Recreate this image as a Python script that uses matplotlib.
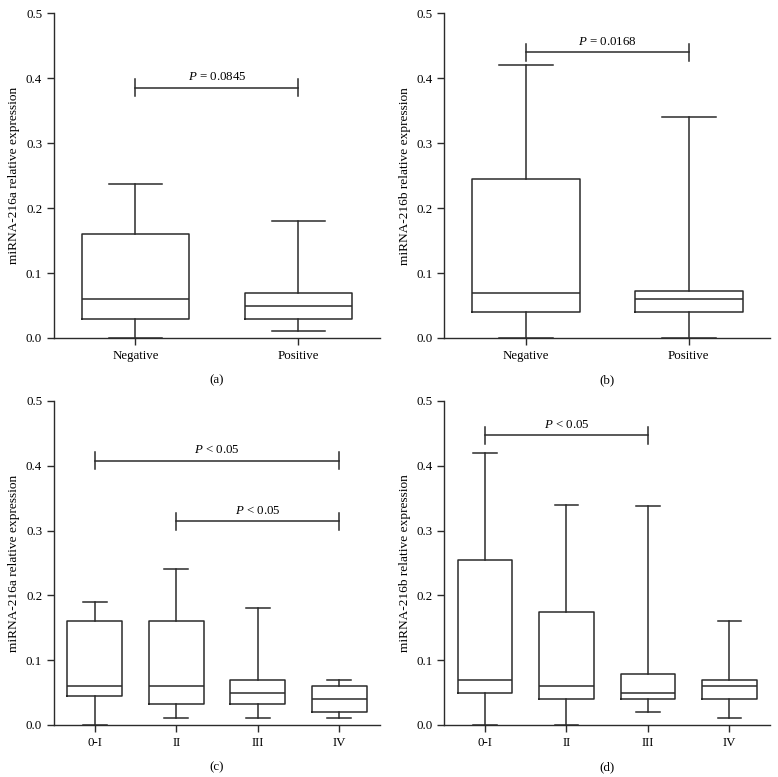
import matplotlib
matplotlib.use("Agg")
import matplotlib.pyplot as plt

plt.rcParams["font.family"] = ["Liberation Serif", "DejaVu Serif"]
plt.rcParams["font.size"] = 9.3
plt.rcParams["mathtext.fontset"] = "custom"
plt.rcParams["mathtext.it"] = "Liberation Serif:italic"
plt.rcParams["mathtext.rm"] = "Liberation Serif"

LINE = "#2b2b2b"

# five-number summaries: whislo, q1, med, q3, whishi
status_labels = ["Negative", "Positive"]
a_stats = [[0.0, 0.03, 0.06, 0.16, 0.237],
           [0.01, 0.03, 0.05, 0.07, 0.18]]
b_stats = [[0.0, 0.04, 0.07, 0.245, 0.42],
           [0.0, 0.04, 0.06, 0.072, 0.34]]

stage_labels = ["0-I", "II", "III", "IV"]
c_stats = [[0.0, 0.045, 0.06, 0.16, 0.19],
           [0.01, 0.033, 0.06, 0.16, 0.24],
           [0.01, 0.033, 0.05, 0.07, 0.18],
           [0.01, 0.02, 0.04, 0.06, 0.07]]
d_stats = [[0.0, 0.05, 0.07, 0.255, 0.42],
           [0.0, 0.04, 0.06, 0.175, 0.34],
           [0.02, 0.04, 0.05, 0.078, 0.338],
           [0.01, 0.04, 0.06, 0.07, 0.16]]

# significance brackets: (from index, to index, y level, text)
a_brackets = [(0, 1, 0.385, "= 0.0845")]
b_brackets = [(0, 1, 0.44, "= 0.0168")]
c_brackets = [(0, 3, 0.408, "< 0.05"), (1, 3, 0.314, "< 0.05")]
d_brackets = [(0, 2, 0.447, "< 0.05")]


def to_bxp(stats):
    out = []
    for lo, q1, med, q3, hi in stats:
        out.append(dict(whislo=lo, q1=q1, med=med, q3=q3, whishi=hi, fliers=[]))
    return out


def draw_panel(ax, stats, labels, ylabel, brackets, tag, width, cap):
    n = len(labels)
    style = dict(color=LINE, linewidth=1.1)
    ax.bxp(to_bxp(stats), positions=range(n), widths=width, capwidths=cap,
           showfliers=False, boxprops=style, whiskerprops=style,
           capprops=style, medianprops=style)
    ax.set_xlim(-0.5, n - 0.5)
    ax.set_ylim(0, 0.5)
    ax.set_yticks([0.0, 0.1, 0.2, 0.3, 0.4, 0.5])
    ax.set_yticklabels(["0.0", "0.1", "0.2", "0.3", "0.4", "0.5"])
    ax.set_xticks(range(n))
    ax.set_xticklabels(labels)
    ax.set_ylabel(ylabel, labelpad=4, fontsize=9.6)
    for side in ["top", "right"]:
        ax.spines[side].set_visible(False)
    for side in ["left", "bottom"]:
        ax.spines[side].set_color(LINE)
        ax.spines[side].set_linewidth(1.0)
    ax.tick_params(colors=LINE, labelcolor="black", length=5, width=1.0)
    for i, j, y, txt in brackets:
        ax.plot([i, j], [y, y], color=LINE, lw=1.1)
        for x in (i, j):
            ax.plot([x, x], [y - 0.013, y + 0.013], color=LINE, lw=1.1)
        ax.text((i + j) / 2, y + 0.007, "$P$ " + txt, ha="center", va="bottom")
    ax.text(0.5, -0.13, tag, transform=ax.transAxes, ha="center", va="center")


fig = plt.figure(figsize=(7.78, 7.77), dpi=100)
ax_a = fig.add_axes([0.0694, 0.565, 0.419, 0.418])
ax_b = fig.add_axes([0.571, 0.565, 0.419, 0.418])
ax_c = fig.add_axes([0.0694, 0.067, 0.419, 0.417])
ax_d = fig.add_axes([0.571, 0.067, 0.419, 0.417])

draw_panel(ax_a, a_stats, status_labels, "miRNA-216a relative expression",
           a_brackets, "(a)", 0.66, 0.33)
draw_panel(ax_b, b_stats, status_labels, "miRNA-216b relative expression",
           b_brackets, "(b)", 0.66, 0.33)
draw_panel(ax_c, c_stats, stage_labels, "miRNA-216a relative expression",
           c_brackets, "(c)", 0.67, 0.29)
draw_panel(ax_d, d_stats, stage_labels, "miRNA-216b relative expression",
           d_brackets, "(d)", 0.67, 0.29)

fig.savefig("out.png", dpi=100)
